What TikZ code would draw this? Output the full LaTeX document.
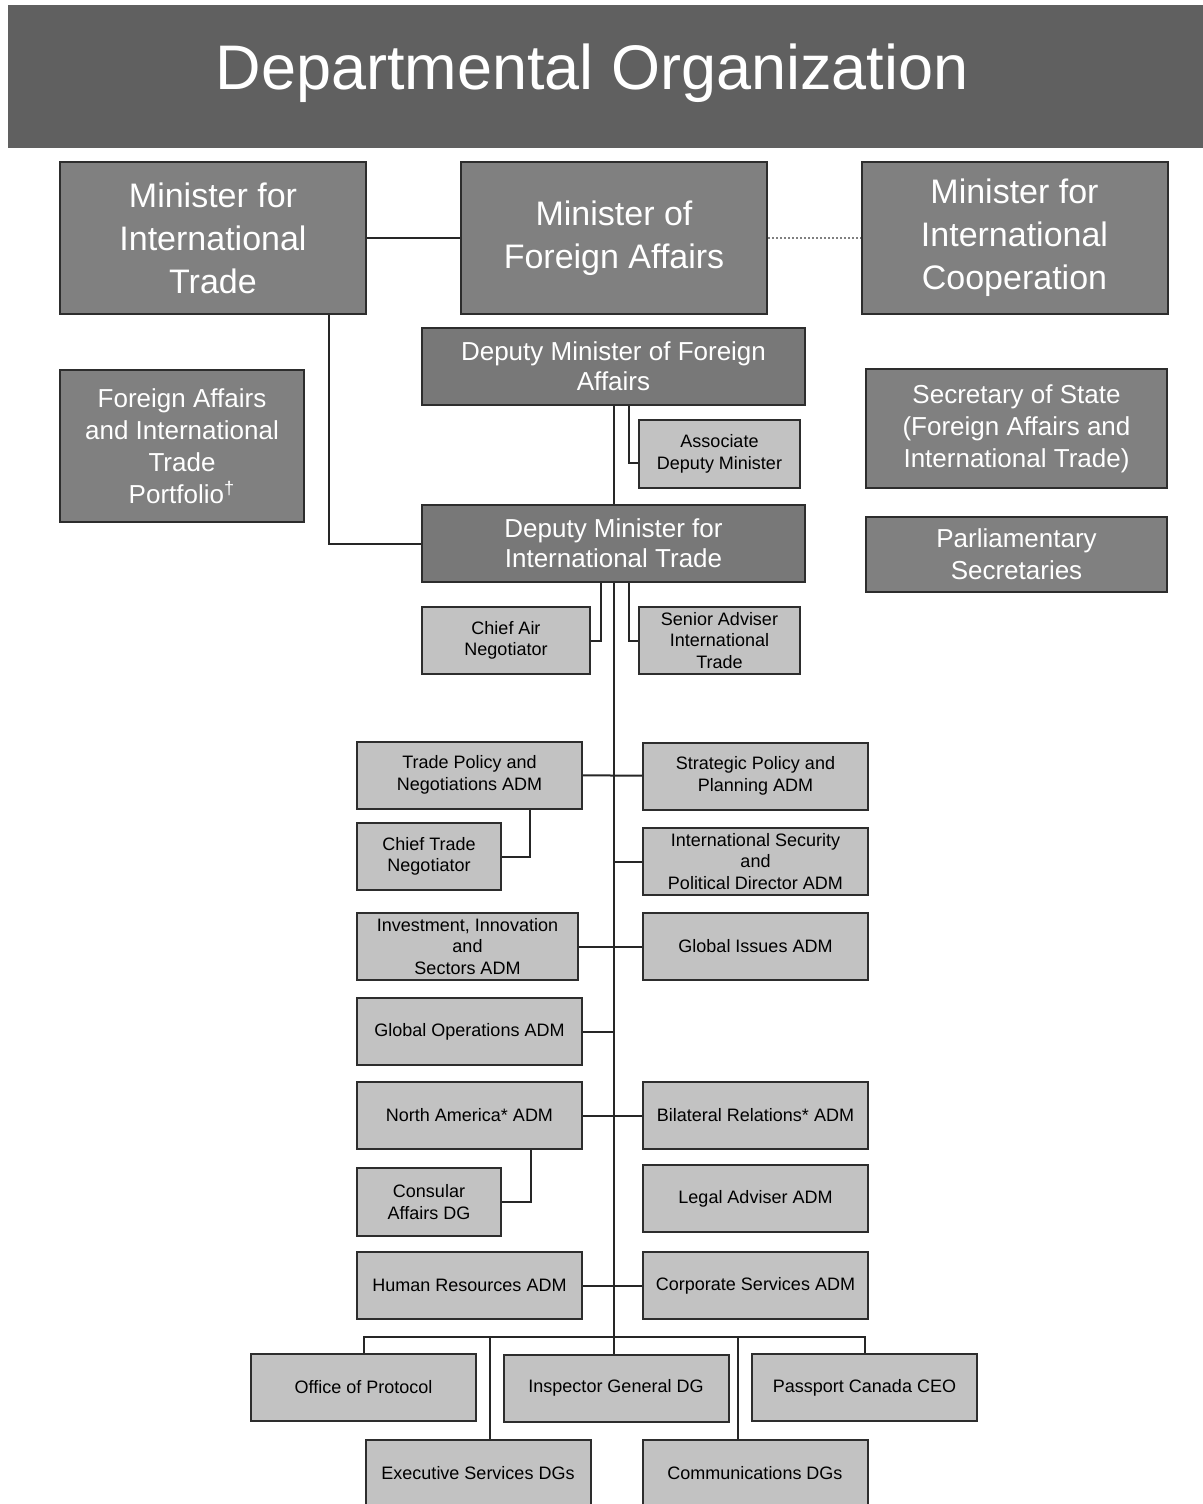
\documentclass[tikz,border=0pt]{standalone}
\usepackage{fontspec}
\setmainfont{Liberation Sans}
\usepackage{tikz}
\usetikzlibrary{positioning}
\definecolor{orgBar}{RGB}{96,96,96}
\definecolor{orgDark}{RGB}{128,128,128}
\definecolor{orgLight}{RGB}{194,194,194}
\definecolor{orgEdge}{RGB}{45,45,45}

\begin{document}
\begin{tikzpicture}[
    x=0.5pt, y=-0.5pt,
    barbox/.style={fill=orgBar, rectangle, inner sep=0pt, minimum width=597.5pt, minimum height=71.5pt},
    minbox/.style={draw=orgEdge, fill=orgDark, rectangle, line width=1pt, align=center, inner sep=0pt, font=\fontsize{17}{21.5}\selectfont, text=white, minimum width=153pt, minimum height=76pt},
    depbox/.style={draw=orgEdge, fill=orgDark!94!black, rectangle, line width=1pt, align=center, inner sep=0pt, font=\fontsize{13}{15}\selectfont, text=white, minimum width=191.5pt, minimum height=38.5pt},
    sidebox/.style={draw=orgEdge, fill=orgDark, rectangle, line width=1pt, align=center, inner sep=0pt, font=\fontsize{13}{16}\selectfont, text=white, minimum width=150.5pt},
    unitbox/.style={draw=orgEdge, fill=orgLight, rectangle, line width=1pt, align=center, inner sep=0pt, font=\fontsize{9}{10.75}\selectfont, text=black, minimum width=112.5pt, minimum height=33.5pt},
    link/.style={line width=1pt, draw=black!85}
]
\useasboundingbox (0,0) rectangle (1203,1504);

% Title bar
\node (bar) [barbox] at (605.5,76.5) {};
\node (title) [text=white, font=\fontsize{31.5}{36}\selectfont] at (592,73) {Departmental Organization};

% Ministers
\node (mit) [minbox] at (213,238) {Minister for\\International\\Trade};
\node (mfa) [minbox] at (614,238) {Minister of\\Foreign Affairs};
\node (mic) [minbox] at (1014.5,238) {Minister for\\International\\Cooperation};

% Side boxes
\node (port) [sidebox, minimum width=122pt, minimum height=76pt] at (182,446) {Foreign Affairs\\and International\\Trade\\Portfolio\textsuperscript{†}};
\node (sos) [sidebox, minimum height=59.5pt] at (1016.5,428.5) {Secretary of State\\(Foreign Affairs and\\International Trade)};
\node (parl) [sidebox, minimum height=37.5pt, below=13.5pt of sos] {Parliamentary\\Secretaries};

% Deputy ministers
\node (dmfa) [depbox] at (613.5,366.5) {Deputy Minister of Foreign\\Affairs};
\node (dmit) [depbox] at (613.5,543.5) {Deputy Minister for\\International Trade};
\node (assoc) [unitbox, minimum width=80.5pt, minimum height=34pt] at (719.5,454) {Associate\\Deputy Minister};
\node (chiefair) [unitbox, minimum width=84pt] at (506,640.5) {Chief Air\\Negotiator};
\node (senior) [unitbox, minimum width=80.5pt] at (719.5,640.5) {Senior Adviser\\International\\Trade};

% ADMs, left column
\node (tpn) [unitbox] at (469.5,775) {Trade Policy and\\Negotiations ADM};
\node (ctn) [unitbox, minimum width=72pt] at (429,856.5) {Chief Trade\\Negotiator};
\node (iis) [unitbox, minimum width=110.5pt] at (467.5,946.5) {Investment, Innovation\\and\\Sectors ADM};
\node (gops) [unitbox] at (469.5,1031.5) {Global Operations ADM};
\node (nam) [unitbox] at (469.5,1115.5) {North America* ADM};
\node (cons) [unitbox, minimum width=72pt, minimum height=34pt] at (429,1202) {Consular\\Affairs DG};
\node (hr) [unitbox] at (469.5,1285.5) {Human Resources ADM};

% ADMs, right column
\node (spp) [unitbox] at (755.5,776) {Strategic Policy and\\Planning ADM};
\node (ispd) [unitbox] at (755.5,861.5) {International Security\\and\\Political Director ADM};
\node (gis) [unitbox] at (755.5,946.5) {Global Issues ADM};
\node (bilat) [unitbox] at (755.5,1115.5) {Bilateral Relations* ADM};
\node (legal) [unitbox] at (755.5,1198.5) {Legal Adviser ADM};
\node (corp) [unitbox] at (755.5,1285.5) {Corporate Services ADM};

% Bottom row
\node (prot) [unitbox] at (363.5,1387.5) {Office of Protocol};
\node (insp) [unitbox] at (616,1388) {Inspector General DG};
\node (pass) [unitbox] at (864.5,1387.5) {Passport Canada CEO};
\node (exec) [unitbox] at (478,1473.5) {Executive Services DGs};
\node (comm) [unitbox] at (755,1473.5) {Communications DGs};
\coordinate (rail) at (613.5,1337);

% Connections
\draw [link] (mit) -- (mfa);
\draw [link, densely dotted, draw=gray] (mfa) -- (mic);
\draw [link] ([xshift=-19pt]mit.south east) |- (dmit.west);

\draw [link] (dmfa) -- (dmit);
\draw [link] ([xshift=7.75pt]dmfa.south) |- ([yshift=-4.5pt]assoc.west);
\draw [link] ([xshift=-6.25pt]dmit.south) |- (chiefair.east);
\draw [link] ([xshift=7.75pt]dmit.south) |- (senior.west);
\draw [link] (dmit.south) -- (dmit.south |- insp.north);

\draw [link] (tpn) -- (spp);
\draw [link] ([xshift=-26.5pt]tpn.south east) |- (ctn.east);
\draw [link] (ispd.west) -- (ispd.west -| dmit.south);
\draw [link] (iis) -- (gis);
\draw [link] (gops.east) -- (gops.east -| dmit.south);
\draw [link] (nam) -- (bilat);
\draw [link] ([xshift=-26pt]nam.south east) |- (cons.east);
\draw [link] (hr) -- (corp);

\draw [link] (prot.north) |- (rail) -| (pass.north);
\draw [link] ([xshift=6pt]exec.north) -- ([xshift=6pt]exec.north |- rail);
\draw [link] ([xshift=-8.5pt]comm.north) -- ([xshift=-8.5pt]comm.north |- rail);

\end{tikzpicture}
\end{document}
